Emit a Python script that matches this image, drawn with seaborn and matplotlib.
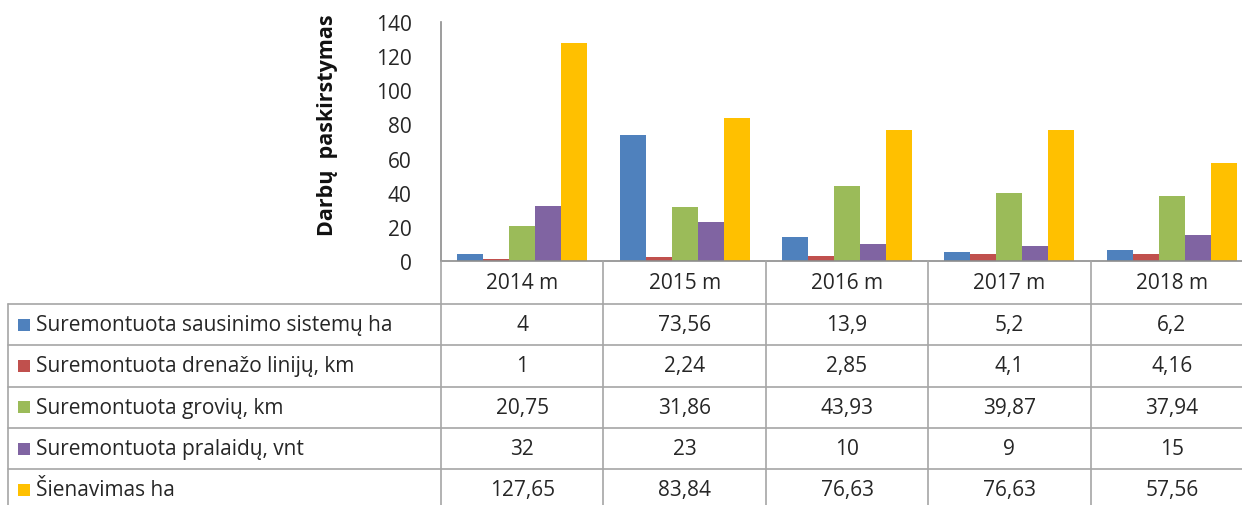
import matplotlib
matplotlib.use("Agg")
import matplotlib.pyplot as plt
import seaborn as sns
import pandas as pd

years = ["2014 m", "2015 m", "2016 m", "2017 m", "2018 m"]
series = [
    "Suremontuota sausinimo sistemų ha",
    "Suremontuota drenažo linijų, km",
    "Suremontuota grovių, km",
    "Suremontuota pralaidų, vnt",
    "Šienavimas ha",
]
sausinimo = [4, 73.56, 13.9, 5.2, 6.2]
drenazo = [1, 2.24, 2.85, 4.1, 4.16]
groviu = [20.75, 31.86, 43.93, 39.87, 37.94]
pralaidu = [32, 23, 10, 9, 15]
sienavimas = [127.65, 83.84, 76.63, 76.63, 57.56]
values = [sausinimo, drenazo, groviu, pralaidu, sienavimas]
colors = ["#4F81BD", "#C0504D", "#9BBB59", "#8064A2", "#FFC000"]
yticks = [0, 20, 40, 60, 80, 100, 120, 140]

rows = []
for s, vals in zip(series, values):
    for y, v in zip(years, vals):
        rows.append({"year": y, "series": s, "value": v})
df = pd.DataFrame(rows)

sns.set_theme(style="white")
plt.rcParams["font.family"] = ["Open Sans", "DejaVu Sans"]

W, H = 1242, 506
fig = plt.figure(figsize=(W / 100, H / 100), dpi=100)
FS = 15
TC = "#262626"

x0, x1 = 441, 1253
ytop, ybot = 23, 262
ax = fig.add_axes([x0 / W, 1 - ybot / H, (x1 - x0) / W, (ybot - ytop) / H])
sns.barplot(data=df, x="year", y="value", hue="series", palette=colors,
            order=years, hue_order=series, width=0.8, gap=0, ax=ax,
            legend=False, saturation=1, edgecolor="none")
ax.set_ylim(0, 140)
ax.set_xlim(-0.5, 4.5)
ax.set_yticks(yticks)
ax.set_yticklabels([str(t) for t in yticks], fontsize=FS, color=TC)
ax.set_xticks([])
ax.set_xlabel("")
ax.set_ylabel("")
for s in ["top", "right"]:
    ax.spines[s].set_visible(False)
for s in ["left", "bottom"]:
    ax.spines[s].set_color("#8C8C8C")
    ax.spines[s].set_linewidth(1.2)
ax.tick_params(axis="y", length=0, pad=21)
ax.patch.set_alpha(0)

fig.text(328 / W, 1 - 125 / H, "Darbų  paskirstymas", rotation=90, ha="center",
         va="center", fontsize=15.5, fontweight="bold", color="#111111")

tab = fig.add_axes([0, 0, 1, 1])
tab.set_xlim(0, W)
tab.set_ylim(H, 0)
tab.axis("off")
tab.patch.set_alpha(0)

gc = "#A6A6A6"
lw = 1.2

def col_px(i):
    disp = ax.transData.transform((i, 0))
    return tab.transData.inverted().transform(disp)[0]

bounds = [col_px(i - 0.5) for i in range(len(years) + 1)]
hdr_top, hdr_bot = 262, 305
row_h = 41.3
left = 8

for b in bounds:
    tab.plot([b, b], [hdr_top, hdr_bot], color=gc, lw=lw)
for i, y in enumerate(years):
    tab.text(col_px(i), (hdr_top + hdr_bot) / 2, y, ha="center", va="center",
             fontsize=FS, color=TC)

n = len(series)
row_edges = [hdr_bot + k * row_h for k in range(n + 1)]
for yv in row_edges:
    tab.plot([left, bounds[-1]], [yv, yv], color=gc, lw=lw)
for b in [left] + bounds:
    tab.plot([b, b], [hdr_bot, row_edges[-1] + 5], color=gc, lw=lw)

def fmt(v):
    return f"{v:g}".replace(".", ",")

for r, (s, vals, c) in enumerate(zip(series, values, colors)):
    yc = hdr_bot + (r + 0.5) * row_h
    tab.add_patch(plt.Rectangle((18, yc - 6), 12, 12, color=c, lw=0))
    tab.text(36, yc, s, ha="left", va="center", fontsize=FS, color=TC)
    for i, v in enumerate(vals):
        tab.text(col_px(i), yc, fmt(v), ha="center", va="center",
                 fontsize=FS, color=TC)

fig.savefig("out.png", dpi=100, facecolor="white")
